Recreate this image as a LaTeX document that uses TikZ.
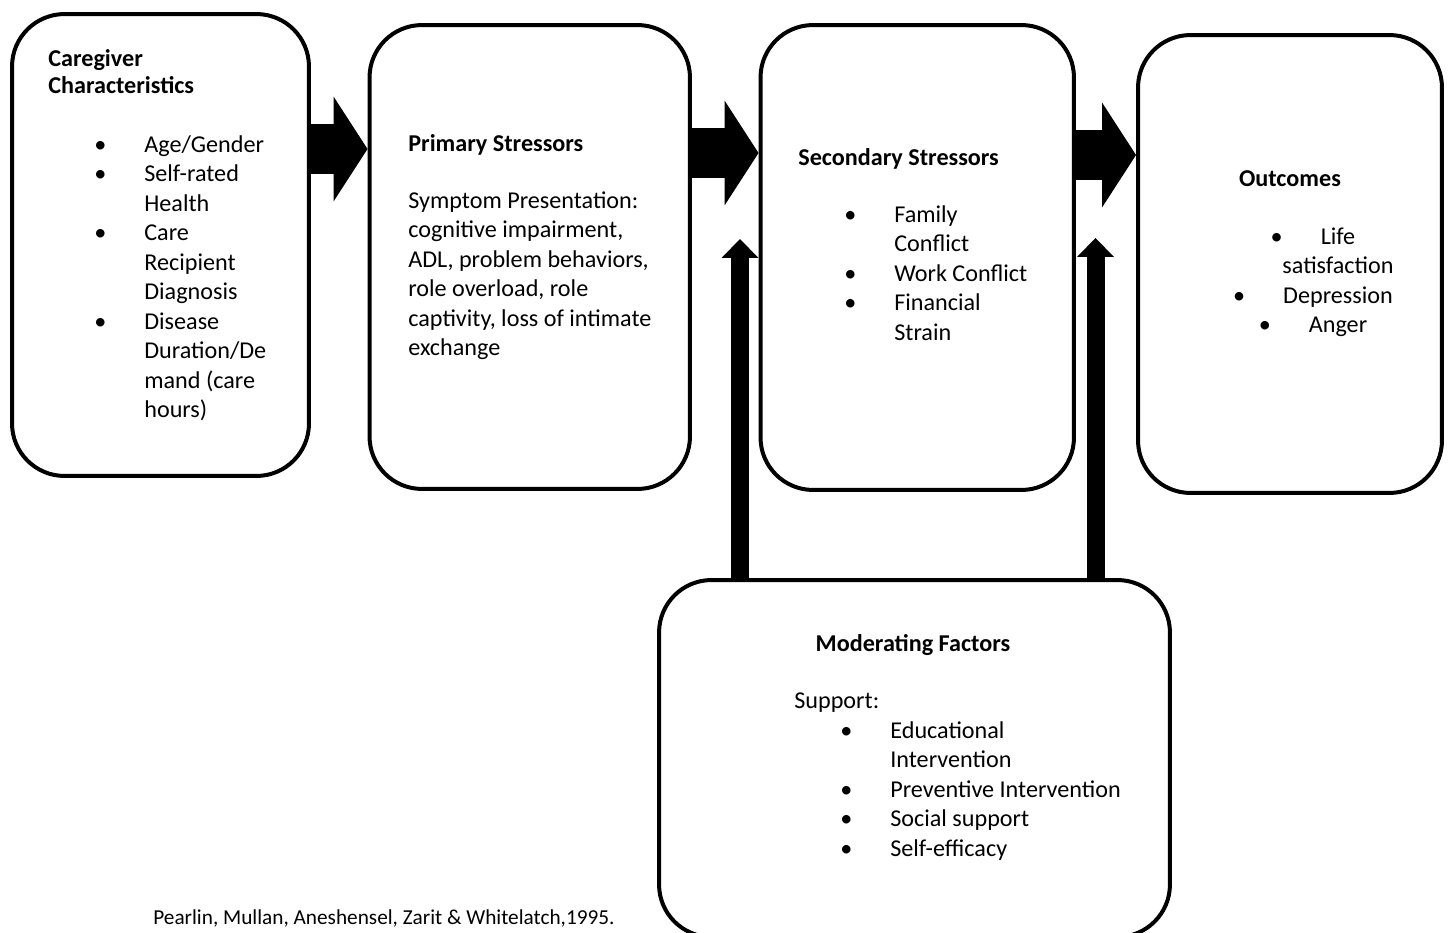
\documentclass[tikz,border=0pt]{standalone}
\usepackage{fontspec}
\setmainfont{Carlito}
\usetikzlibrary{arrows.meta,positioning}

\newcommand{\bul}{\llap{\textbullet\hspace{0.76cm}}}

\tikzset{
  box/.style={draw, line width=0.08cm, rounded corners=1.05cm, inner sep=0pt},
  blockarrow/.style={line width=1.02cm, -{Triangle[width=2.1cm,length=0.68cm,line width=0pt]}},
  uparrow/.style={line width=0.36cm, -{Triangle[width=0.74cm,length=0.38cm,line width=0pt]}},
  txt/.style={inner sep=0pt, align=left, font=\fontsize{13.75}{16.8}\selectfont},
  head/.style={txt, font=\fontsize{13.75}{15.5}\selectfont\bfseries},
}

\begin{document}
\begin{tikzpicture}[x=0.02cm, y=-0.02cm]
  \useasboundingbox (0,0) rectangle (1451,933);
  \clip (0,0) rectangle (1451,933);

  % boxes
  \node[box, minimum width=5.94cm, minimum height=9.24cm] (cg) at (160.5,245) {};
  \node[box, minimum width=6.41cm, minimum height=9.28cm] (ps) at (529.75,257) {};
  \node[box, minimum width=6.27cm, minimum height=9.3cm] (ss) at (917.25,257.5) {};
  \node[box, minimum width=6.08cm, minimum height=9.16cm] (oc) at (1290,264) {};
  \node[box, minimum width=10.22cm, minimum height=7.14cm] (mf) at (914.5,758.5) {};

  % caregiver characteristics
  \node[head, anchor=north west] (cgh) at (48,47) {\strut Caregiver\\Characteristics};
  \node[txt, anchor=north west] (cgl) at (144,131) {\strut\bul Age/Gender\\
    \bul Self-rated\\ Health\\
    \bul Care\\ Recipient\\ Diagnosis\\
    \bul Disease\\ Duration/De\\ mand (care\\ hours)};

  % primary stressors
  \node[head, anchor=north west] (psh) at (408,132) {\strut Primary Stressors};
  \node[txt, anchor=north west] (psl) at (408,187) {\strut Symptom Presentation:\\
    cognitive impairment,\\ ADL, problem behaviors,\\ role overload, role\\
    captivity, loss of intimate\\ exchange};

  % secondary stressors
  \node[head, anchor=north west] (ssh) at (798,146) {\strut Secondary Stressors};
  \node[txt, anchor=north west] (ssl) at (894,201) {\strut\bul Family\\ Conflict\\
    \bul Work Conflict\\ \bul Financial\\ Strain};

  % outcomes
  \node[head, anchor=north] (och) at (1290,167) {\strut Outcomes};
  \node[txt, align=center, anchor=north] (ocl) at (1338,223) {\strut\bul Life\\ satisfaction\\
    \bul Depression\\ \bul Anger};

  % moderating factors
  \node[head, anchor=north] (mfh) at (913,632) {\strut Moderating Factors};
  \node[txt, anchor=north west] (mfs) at (794,687) {\strut Support:};
  \node[txt, anchor=north west] (mfl) at (890,717) {\strut\bul Educational\\ Intervention\\
    \bul Preventive Intervention\\ \bul Social support\\ \bul Self-efficacy};

  \node[inner sep=0pt, anchor=base west, font=\fontsize{12.1}{14}\selectfont] (ref) at (153,924)
    {Pearlin, Mullan, Aneshensel, Zarit \& Whitelatch,1995.};

  % arrows
  \draw[blockarrow] (cg.east |- 0,149) -- (ps.west |- 0,149);
  \draw[blockarrow] (ps.east |- 0,153) -- (ss.west |- 0,153);
  \draw[blockarrow] (ss.east |- 0,155) -- (oc.west |- 0,155);
  \coordinate (m1) at (740,239);
  \coordinate (m2) at (1095.5,238);
  \draw[uparrow] (m1 |- mf.north) -- (m1);
  \draw[uparrow] (m2 |- mf.north) -- (m2);
\end{tikzpicture}
\end{document}
